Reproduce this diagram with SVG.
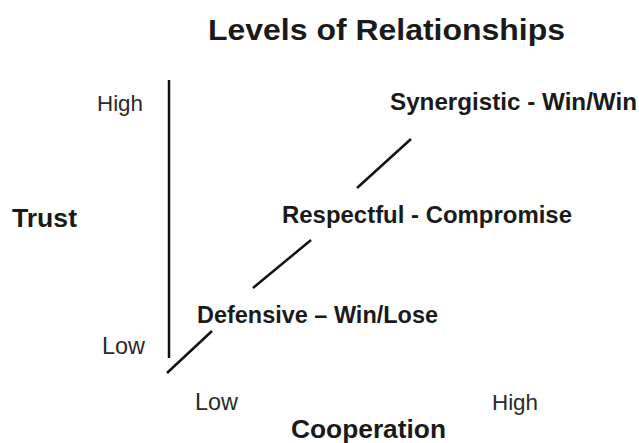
<svg xmlns="http://www.w3.org/2000/svg" width="639" height="443" viewBox="0 0 639 443">
<style>
.b{font-family:"Liberation Sans",Arial,sans-serif;font-weight:bold;fill:#1a1a1a}
.r{font-family:"Liberation Sans",Arial,sans-serif;fill:#2a2a2a}
.ln{stroke:#111;stroke-width:2.5;fill:none}
</style>
<rect width="639" height="443" fill="#fff"/>
<g id="title"><text class="b" x="208" y="40" font-size="30" textLength="357" lengthAdjust="spacingAndGlyphs">Levels of Relationships</text></g>
<g id="axes">
<line class="ln" x1="169" y1="80" x2="169" y2="358" stroke-width="2"/>
</g>
<g id="y-label"><text class="b" x="12" y="227" font-size="25" textLength="65" lengthAdjust="spacingAndGlyphs">Trust</text></g>
<g id="y-high"><text class="r" x="97" y="111" font-size="22" textLength="46" lengthAdjust="spacingAndGlyphs">High</text></g>
<g id="y-low"><text class="r" x="102" y="354" font-size="23" textLength="43" lengthAdjust="spacingAndGlyphs">Low</text></g>
<g id="x-low"><text class="r" x="195" y="410" font-size="23" textLength="43" lengthAdjust="spacingAndGlyphs">Low</text></g>
<g id="x-high"><text class="r" x="492" y="410" font-size="22" textLength="46" lengthAdjust="spacingAndGlyphs">High</text></g>
<g id="x-label"><text class="b" x="291" y="438" font-size="25" textLength="155" lengthAdjust="spacingAndGlyphs">Cooperation</text></g>
<g id="synergistic"><text class="b" x="390" y="110" font-size="24" textLength="247" lengthAdjust="spacingAndGlyphs">Synergistic - Win/Win</text></g>
<g id="respectful"><text class="b" x="282" y="223" font-size="24" textLength="290" lengthAdjust="spacingAndGlyphs">Respectful - Compromise</text></g>
<g id="defensive"><text class="b" x="197" y="323" font-size="23.5" textLength="241" lengthAdjust="spacingAndGlyphs">Defensive – Win/Lose</text></g>
<g id="connectors">
<line class="ln" x1="167" y1="373" x2="212" y2="331"/>
<line class="ln" x1="253" y1="288" x2="311" y2="240"/>
<line class="ln" x1="357" y1="188" x2="411" y2="139"/>
</g>
</svg>
